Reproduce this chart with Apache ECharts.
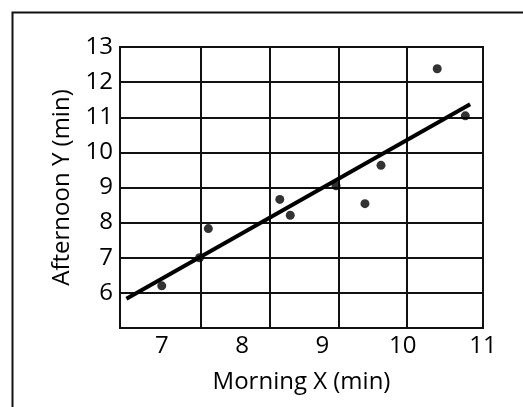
<!DOCTYPE html>
<html>
<head>
<meta charset="utf-8">
<script src="https://cdn.jsdelivr.net/npm/echarts@6/dist/echarts.min.js"></script>
<style>html,body{margin:0;padding:0;background:#fff}#c{width:523px;height:407px}</style>
</head>
<body>
<div id="c"></div>
<script>
// Data
var xTicks = [7, 8, 9, 10, 11];
var yTicks = [6, 7, 8, 9, 10, 11, 12, 13];
var vGridX = [7.48, 8.34, 9.2, 10.05];
var morningX = [7.0, 7.47, 7.58, 8.47, 8.60, 9.17, 9.53, 9.73, 10.43, 10.78];
var afternoonY = [6.2, 7.0, 7.83, 8.66, 8.21, 9.05, 8.54, 9.63, 12.38, 11.04];
var fitX = [6.56, 10.84];
var fitY = [5.83, 11.37];

var pts = morningX.map(function (x, i) { return [x, afternoonY[i]]; });
var fit = fitX.map(function (x, i) { return [x, fitY[i]]; });

var font = 'Open Sans';
var chart = echarts.init(document.getElementById('c'));
chart.setOption({
  animation: false,
  backgroundColor: '#fff',
  graphic: [{
    type: 'rect', left: 10, top: 10, silent: true,
    shape: { width: 540, height: 420 },
    style: { fill: 'none', stroke: '#111', lineWidth: 2 }
  }],
  grid: { left: 120, right: 40, top: 47, bottom: 79, show: true, borderColor: '#111', borderWidth: 2, backgroundColor: 'transparent' },
  xAxis: [{
    type: 'value', min: 6.48, max: 11,
    name: 'Morning X (min)', nameLocation: 'middle', nameGap: 42,
    nameTextStyle: { fontFamily: font, fontSize: 24, color: '#000' },
    axisLine: { show: true, lineStyle: { color: '#111', width: 2 } },
    axisTick: { show: false, customValues: xTicks },
    axisLabel: { customValues: xTicks, fontFamily: font, fontSize: 24, color: '#000', margin: 6 },
    splitLine: { show: false }
  }, {
    type: 'value', min: 6.48, max: 11, position: 'bottom',
    axisLine: { show: false },
    axisTick: { show: false, customValues: vGridX },
    axisLabel: { show: false, customValues: vGridX },
    splitLine: { show: true, lineStyle: { color: '#111', width: 2 } }
  }],
  yAxis: {
    type: 'value', min: 5, max: 13, interval: 1,
    name: 'Afternoon Y (min)', nameLocation: 'middle', nameGap: 41,
    nameTextStyle: { fontFamily: font, fontSize: 24, color: '#000' },
    axisLine: { show: true, lineStyle: { color: '#111', width: 2 } },
    axisTick: { show: false },
    axisLabel: { customValues: yTicks, fontFamily: font, fontSize: 24, color: '#000', margin: 7 },
    splitLine: { show: true, lineStyle: { color: '#111', width: 2 } }
  },
  series: [{
    type: 'line', xAxisIndex: 0, data: fit, symbol: 'none',
    lineStyle: { color: '#000', width: 4 }, z: 3
  }, {
    type: 'scatter', xAxisIndex: 0, data: pts, symbolSize: 9,
    itemStyle: { color: '#000' }, z: 4
  }]
});
</script>
</body>
</html>
